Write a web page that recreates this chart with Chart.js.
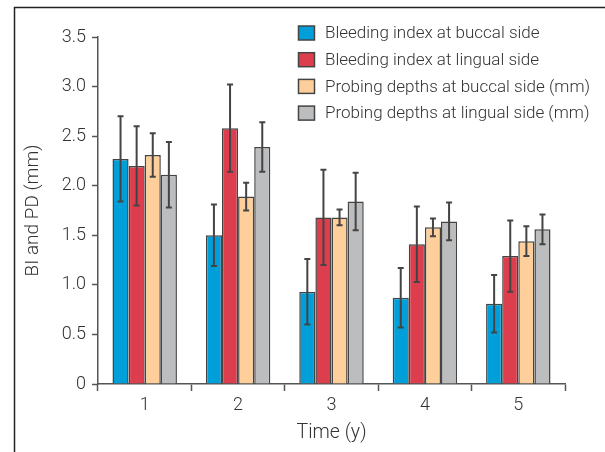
<!DOCTYPE html>
<html>
<head>
<meta charset="utf-8">
<script src="https://cdn.jsdelivr.net/npm/chart.js@4.4.1/dist/chart.umd.min.js"></script>
<style>
  html, body { margin: 0; padding: 0; background: #fff; }
  #wrap { width: 605px; height: 452px; position: relative; }
</style>
</head>
<body>
<div id="wrap"><canvas id="barChart" width="605" height="452"></canvas></div>
<script>
// data
var timeLabels = ['1', '2', '3', '4', '5'];
var seriesNames = [
  'Bleeding index at buccal side',
  'Bleeding index at lingual side',
  'Probing depths at buccal side (mm)',
  'Probing depths at lingual side (mm)'
];
var biBuccal  = [2.27, 1.50, 0.93, 0.87, 0.81];
var biLingual = [2.20, 2.58, 1.68, 1.41, 1.29];
var pdBuccal  = [2.31, 1.89, 1.68, 1.58, 1.44];
var pdLingual = [2.11, 2.39, 1.84, 1.64, 1.56];
var biBuccalSd  = [0.43, 0.31, 0.33, 0.30, 0.29];
var biLingualSd = [0.40, 0.44, 0.48, 0.38, 0.36];
var pdBuccalSd  = [0.22, 0.14, 0.08, 0.09, 0.15];
var pdLingualSd = [0.33, 0.25, 0.29, 0.19, 0.15];
var yTicks = [0, 0.5, 1.0, 1.5, 2.0, 2.5, 3.0, 3.5];

var colors = ['#009fda', '#dc3e4e', '#fecf9a', '#bcbdbf'];
var inkColor = '#444444';
var textColor = '#333333';
var fontFamily = 'Roboto, "Liberation Sans", sans-serif';

function makeSet(i, values, sd) {
  return {
    label: seriesNames[i],
    data: values,
    sd: sd,
    backgroundColor: colors[i],
    borderColor: inkColor,
    borderWidth: 1.5,
    categoryPercentage: 0.69,
    barPercentage: 1.0
  };
}

// outer frame (top + left rule of the figure)
var framePlugin = {
  id: 'frame',
  afterDraw: function (chart) {
    var ctx = chart.ctx;
    ctx.save();
    ctx.strokeStyle = '#222';
    ctx.lineWidth = 1.5;
    ctx.beginPath();
    ctx.moveTo(605, 7.5);
    ctx.lineTo(14.5, 7.5);
    ctx.lineTo(14.5, 452);
    ctx.stroke();
    ctx.restore();
  }
};

// symmetric error bars
var errorBarPlugin = {
  id: 'errorBars',
  afterDatasetsDraw: function (chart) {
    var ctx = chart.ctx;
    var yScale = chart.scales.y;
    ctx.save();
    ctx.strokeStyle = inkColor;
    ctx.lineWidth = 2;
    chart.data.datasets.forEach(function (ds, di) {
      var meta = chart.getDatasetMeta(di);
      meta.data.forEach(function (bar, i) {
        var v = ds.data[i], e = ds.sd[i];
        var yTop = yScale.getPixelForValue(v + e);
        var yBot = yScale.getPixelForValue(v - e);
        var x = bar.x;
        ctx.beginPath();
        ctx.moveTo(x, yTop); ctx.lineTo(x, yBot);
        ctx.moveTo(x - 3, yTop); ctx.lineTo(x + 3, yTop);
        ctx.moveTo(x - 3, yBot); ctx.lineTo(x + 3, yBot);
        ctx.stroke();
      });
    });
    ctx.restore();
  }
};

// legend in the upper right, boxes left aligned
var legendPlugin = {
  id: 'sideLegend',
  afterDraw: function (chart) {
    var ctx = chart.ctx;
    ctx.save();
    ctx.font = '300 17px ' + fontFamily;
    ctx.textBaseline = 'middle';
    chart.data.datasets.forEach(function (ds, i) {
      var cy = 33 + i * 26.7;
      ctx.fillStyle = ds.backgroundColor;
      ctx.strokeStyle = inkColor;
      ctx.lineWidth = 1.5;
      ctx.fillRect(298.5, cy - 7, 16, 14);
      ctx.strokeRect(298.5, cy - 7, 16, 14);
      ctx.fillStyle = textColor;
      ctx.fillText(ds.label, 325, cy + 1);
    });
    ctx.restore();
  }
};

var config = {
  type: 'bar',
  data: {
    labels: timeLabels,
    datasets: [
      makeSet(0, biBuccal, biBuccalSd),
      makeSet(1, biLingual, biLingualSd),
      makeSet(2, pdBuccal, pdBuccalSd),
      makeSet(3, pdLingual, pdLingualSd)
    ]
  },
  options: {
    responsive: false,
    animation: false,
    layout: { padding: { top: 37, right: 40, left: 0, bottom: 0 } },
    plugins: {
      legend: { display: false },
      tooltip: { enabled: false }
    },
    scales: {
      x: {
        grid: {
          offset: true,
          drawOnChartArea: false,
          drawTicks: true,
          tickLength: 7,
          tickWidth: 1.5,
          tickColor: '#555'
        },
        border: { color: '#555', width: 1.5 },
        ticks: {
          color: textColor,
          padding: 4,
          font: { family: fontFamily, size: 18, weight: 300 }
        },
        title: {
          display: true,
          text: 'Time (y)',
          color: textColor,
          padding: { top: 0, bottom: 7 },
          font: { family: fontFamily, size: 19.5, weight: 300 }
        },
        afterFit: function (s) { s.height = 68; }
      },
      y: {
        min: 0,
        max: 3.5,
        afterBuildTicks: function (s) {
          s.ticks = yTicks.map(function (v) { return { value: v }; });
        },
        grid: {
          drawOnChartArea: false,
          drawTicks: true,
          tickLength: 6,
          tickWidth: 1.5,
          tickColor: '#555'
        },
        border: { color: '#555', width: 1.5 },
        ticks: {
          color: textColor,
          padding: 6,
          font: { family: fontFamily, size: 18, weight: 300 },
          callback: function (v) { return v === 0 ? '0' : v.toFixed(1); }
        },
        title: {
          display: true,
          text: 'BI and PD (mm)',
          color: textColor,
          padding: { top: 22, bottom: 0 },
          font: { family: fontFamily, size: 19, weight: 300 }
        },
        afterFit: function (s) { s.width = 98; }
      }
    }
  },
  plugins: [framePlugin, errorBarPlugin, legendPlugin]
};

var barChart = new Chart(document.getElementById('barChart').getContext('2d'), config);
</script>
</body>
</html>
